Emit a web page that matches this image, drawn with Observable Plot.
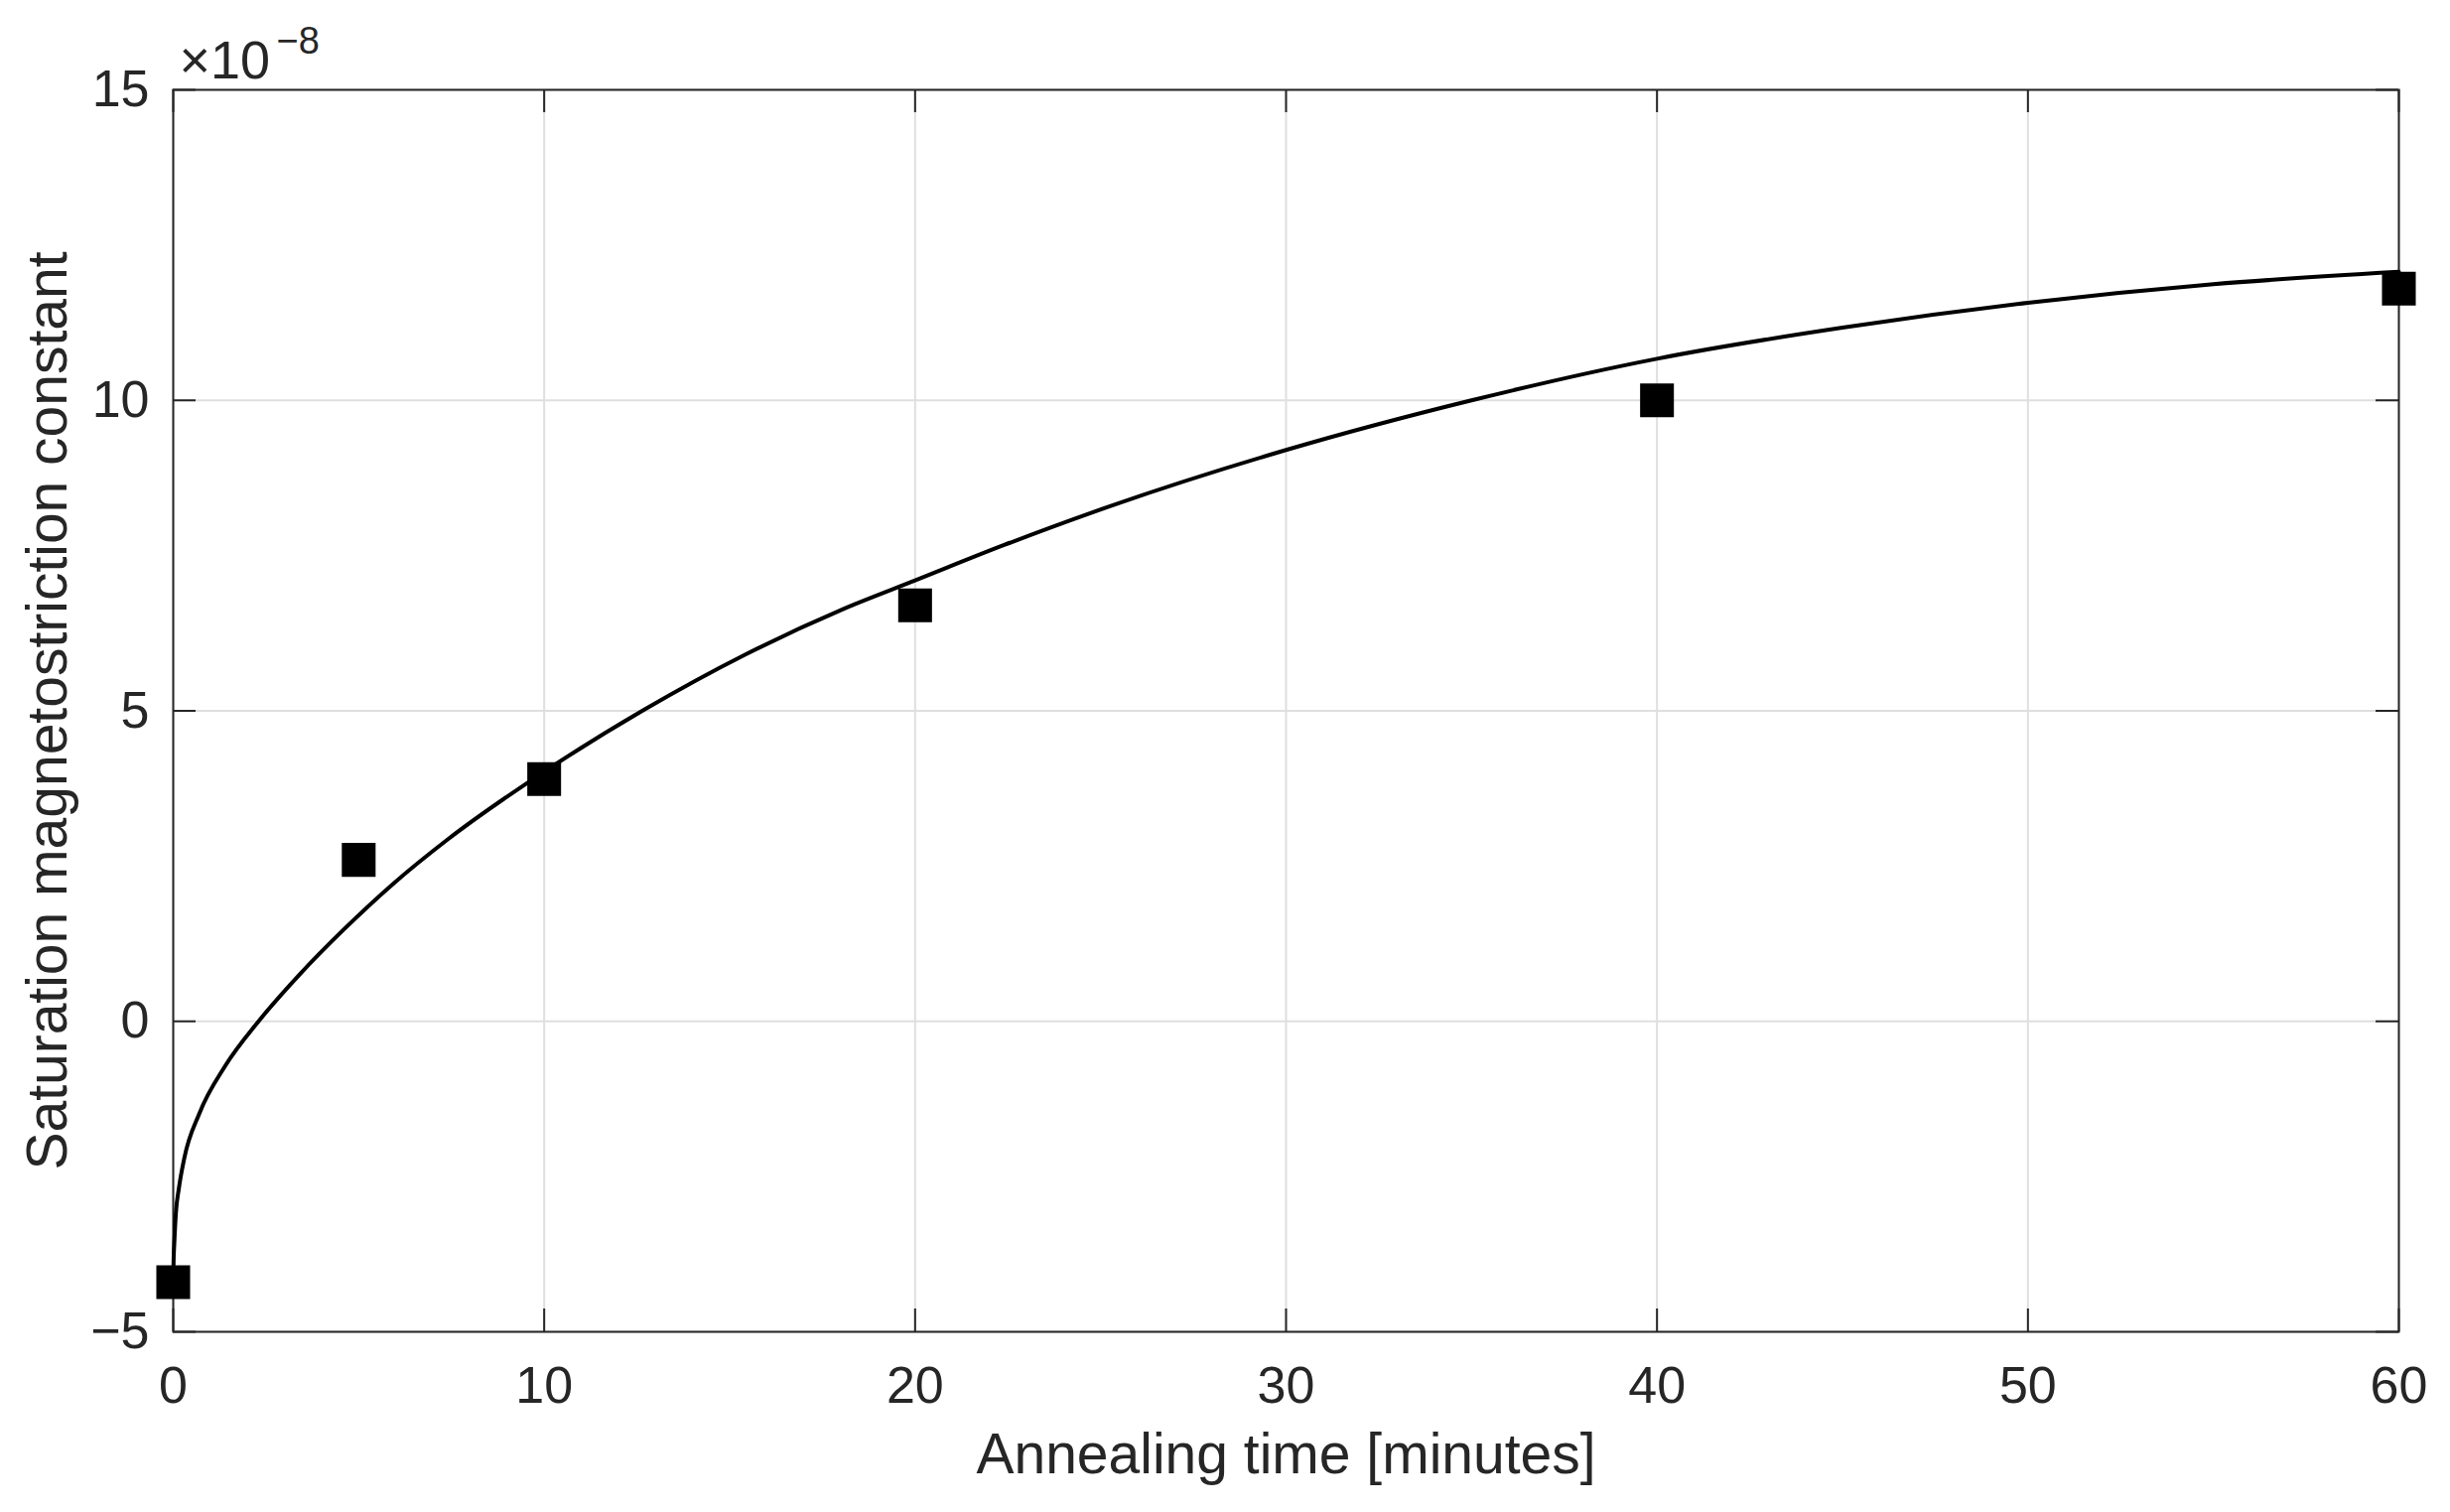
<!DOCTYPE html>
<html>
<head>
<meta charset="utf-8">
<script src="https://cdn.jsdelivr.net/npm/d3@7"></script>
<script src="https://cdn.jsdelivr.net/npm/@observablehq/plot@0.6"></script>
<style>
  html, body { margin: 0; padding: 0; background: #ffffff; }
  #chart svg { display: block; overflow: visible; }
</style>
</head>
<body>
<div id="chart"></div>
<script>
// Measured data (annealing time in minutes, value in units of 1e-8)
const annealTime = [0, 5, 10, 20, 40, 60];
const lambdaS = [-4.2, 2.6, 3.9, 6.7, 10.0, 11.8];

// Fitted curve
const fitTime = [0, 0.01, 0.027, 0.07, 0.15, 0.3, 0.7, 1.4, 2.3, 3.4, 4.6, 5.9, 7.4, 10, 12.7, 15.4, 18.1, 20, 22.4, 24.8, 30, 35, 40, 45, 50, 55, 60];
const fitValue = [-4.2, -3.85, -3.6, -3.1, -2.7, -2.2, -1.49, -0.72, 0, 0.75, 1.48, 2.2, 2.93, 4.02, 5.02, 5.9, 6.65, 7.1, 7.67, 8.2, 9.2, 10.0, 10.67, 11.17, 11.57, 11.87, 12.07];

// Axis ticks
const xTicks = [0, 10, 20, 30, 40, 50, 60];
const yTicks = [-5, 0, 5, 10, 15];
const xLabel = "Annealing time [minutes]";
const yLabel = "Saturation magnetostriction constant";
const exponentBase = "\u00d710";
const exponentPower = "\u22128";

const points = annealTime.map((t, i) => ({t, v: lambdaS[i]}));
const fit = fitTime.map((t, i) => ({t, v: fitValue[i]}));

const W = 2468, H = 1523;
const mL = 174, mR = 52, mT = 90, mB = 182;
const frameW = W - mL - mR, frameH = H - mT - mB;
const tickLen = 23;
const ink = "#262626";
const fmt = d => d < 0 ? "\u2212" + Math.abs(d) : String(d);

const chart = Plot.plot({
  width: W,
  height: H,
  marginLeft: mL,
  marginRight: mR,
  marginTop: mT,
  marginBottom: mB,
  style: {fontFamily: "'Liberation Sans', Arial, Helvetica, sans-serif", background: "#ffffff", color: ink, overflow: "visible"},
  x: {domain: [0, 60], axis: null},
  y: {domain: [-5, 15], axis: null},
  marks: [
    Plot.gridX(xTicks, {stroke: "#dfdfdf", strokeOpacity: 1, strokeWidth: 2}),
    Plot.gridY(yTicks, {stroke: "#dfdfdf", strokeOpacity: 1, strokeWidth: 2}),
    // inward ticks on all four sides
    Plot.ruleX(xTicks, {x: d => d, insetTop: frameH - tickLen, stroke: ink, strokeWidth: 2}),
    Plot.ruleX(xTicks, {x: d => d, insetBottom: frameH - tickLen, stroke: ink, strokeWidth: 2}),
    Plot.ruleY(yTicks, {y: d => d, insetRight: frameW - tickLen, stroke: ink, strokeWidth: 2}),
    Plot.ruleY(yTicks, {y: d => d, insetLeft: frameW - tickLen, stroke: ink, strokeWidth: 2}),
    Plot.frame({stroke: ink, strokeWidth: 2}),
    // tick labels
    Plot.text(xTicks, {x: d => d, text: fmt, frameAnchor: "bottom", dy: 35, lineAnchor: "top", textAnchor: "middle", fontSize: 52, fill: ink}),
    Plot.text(yTicks, {y: d => d, text: fmt, frameAnchor: "left", dx: -24, textAnchor: "end", lineAnchor: "middle", fontSize: 52, fill: ink}),
    // exponent
    Plot.text([exponentBase], {text: d => d, frameAnchor: "top-left", dx: 6, dy: -12, lineAnchor: "bottom", textAnchor: "start", fontSize: 54, fill: ink}),
    Plot.text([exponentPower], {text: d => d, frameAnchor: "top-left", dx: 104, dy: -37, lineAnchor: "bottom", textAnchor: "start", fontSize: 38, fill: ink}),
    // axis labels
    Plot.text([xLabel], {text: d => d, frameAnchor: "bottom", dy: 142, lineAnchor: "bottom", textAnchor: "middle", fontSize: 57, fill: ink}),
    Plot.text([yLabel], {text: d => d, frameAnchor: "left", dx: -108, rotate: -90, lineAnchor: "bottom", textAnchor: "middle", fontSize: 57, fill: ink}),
    // data
    Plot.line(fit, {x: "t", y: "v", curve: "monotone-x", stroke: "#000000", strokeWidth: 4}),
    Plot.dot(points, {x: "t", y: "v", symbol: "square", r: 19.2, fill: "#000000", stroke: "none"})
  ]
});

document.getElementById("chart").appendChild(chart);
</script>
</body>
</html>
